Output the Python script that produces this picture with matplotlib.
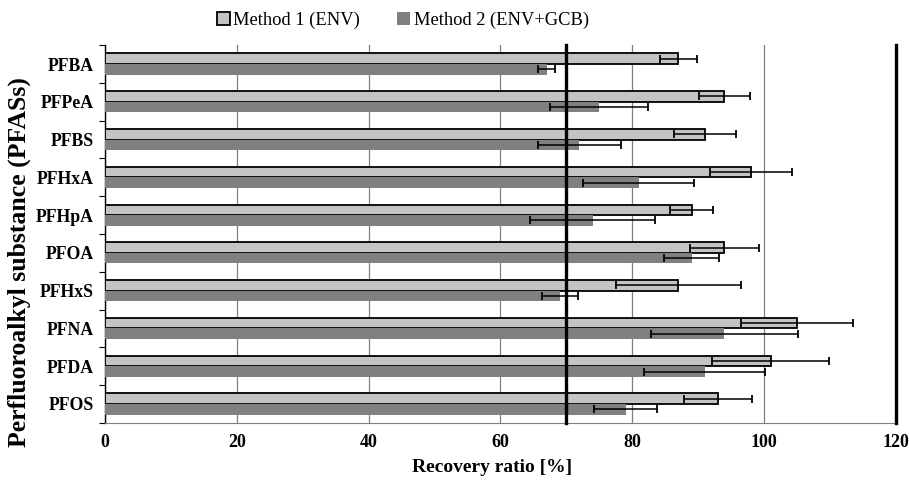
import numpy as np
import matplotlib.pyplot as plt

# recovery ratios [%], top to bottom
compounds = ["PFBA", "PFPeA", "PFBS", "PFHxA", "PFHpA",
             "PFOA", "PFHxS", "PFNA", "PFDA", "PFOS"]
method1 = [87, 94, 91, 98, 89, 94, 87, 105, 101, 93]
method1_err = [2.8, 3.9, 4.7, 6.2, 3.2, 5.2, 9.5, 8.5, 8.9, 5.2]
method2 = [67, 75, 72, 81, 74, 89, 69, 94, 91, 79]
method2_err = [1.3, 7.4, 6.3, 8.4, 9.5, 4.2, 2.7, 11.2, 9.2, 4.8]
limits = [70, 120]

plt.rcParams['font.family'] = ['Liberation Serif', 'DejaVu Serif']

fig = plt.figure(figsize=(9.09, 4.8), dpi=100)
ax = fig.add_axes([0.1155, 0.119, 0.870, 0.787])

y = np.arange(len(compounds))
h = 0.28

ax.barh(y - h/2, method1, height=h, color="#c4c4c4", edgecolor="black",
        linewidth=1.3, label="Method 1 (ENV)", zorder=3)
ax.barh(y + h/2, method2, height=h, color="#808080", linewidth=0,
        label="Method 2 (ENV+GCB)", zorder=3)
ax.errorbar(method1, y - h/2, xerr=method1_err, fmt="none", ecolor="black",
            elinewidth=1.1, capsize=3, capthick=1.3, zorder=4)
ax.errorbar(method2, y + h/2, xerr=method2_err, fmt="none", ecolor="black",
            elinewidth=1.1, capsize=3, capthick=1.3, zorder=4)

for v in limits:
    ax.axvline(v, color="black", lw=2.4, zorder=5, clip_on=False)

ax.set_xlim(0, 120)
ax.set_ylim(len(compounds) - 0.5, -0.5)
ax.set_xticks([0, 20, 40, 60, 80, 100, 120])
ax.grid(axis="x", color="#808080", lw=0.9, zorder=0)

# tick marks between categories, labels at centers
ax.set_yticks(np.arange(-0.5, len(compounds)), minor=False)
ax.set_yticklabels([])
ax.set_yticks(y, minor=True)
ax.set_yticklabels(compounds, minor=True, fontweight="bold", fontsize=12.8)
ax.tick_params(axis="y", which="major", length=4, direction="out")
ax.tick_params(axis="y", which="minor", length=0, pad=8)
ax.tick_params(axis="x", length=0, pad=8)
for lab in ax.get_xticklabels():
    lab.set_fontweight("bold")
    lab.set_fontsize(13)

for s in ["top", "right"]:
    ax.spines[s].set_visible(False)
ax.spines["bottom"].set_color("#808080")
ax.spines["left"].set_linewidth(1.0)

ax.set_xlabel("Recovery ratio [%]", fontweight="bold", fontsize=14)
ax.xaxis.set_label_coords(0.49, -0.095)
ax.set_ylabel("Perfluoroalkyl substance (PFASs)", fontweight="bold", fontsize=18.5)
ax.yaxis.set_label_coords(-0.094, 0.425)

fig.legend(loc="upper center", bbox_to_anchor=(0.443, 1.01), ncol=2, frameon=False,
           fontsize=13.3, handlelength=0.7, handleheight=0.7, handletextpad=0.2,
           columnspacing=2.0)

fig.savefig("out.png", dpi=100)
